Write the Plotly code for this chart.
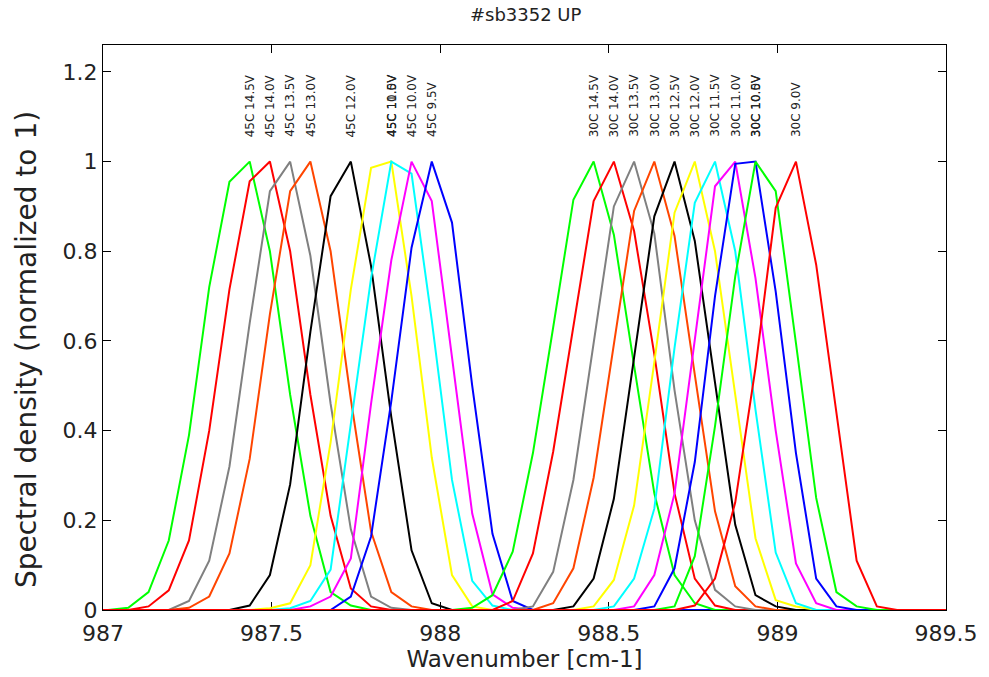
import plotly.graph_objects as go

# Common wavenumber sampling grid (cm-1), read from the vertex positions
wavenumber = [986.955, 987.015, 987.075, 987.135, 987.195, 987.255, 987.315, 987.375,
              987.435, 987.495, 987.555, 987.615, 987.675, 987.735, 987.795, 987.855,
              987.915, 987.975, 988.035, 988.095, 988.155, 988.215, 988.275, 988.335,
              988.395, 988.455, 988.515, 988.575, 988.635, 988.695, 988.755, 988.815,
              988.875, 988.935, 988.995, 989.055, 989.115, 989.175, 989.235, 989.295,
              989.355, 989.415, 989.475, 989.535]

# Each series: first grid index (0 = 986.955) of its non-zero part, and its values
s45_145 = (2,  [0.005, 0.04, 0.155, 0.39, 0.72, 0.955, 1.0, 0.80, 0.48, 0.21, 0.04, 0.01])
s45_140 = (3,  [0.008, 0.044, 0.155, 0.40, 0.715, 0.956, 1.0, 0.80, 0.48, 0.21, 0.048, 0.008])
s45_135 = (5,  [0.02, 0.11, 0.32, 0.64, 0.934, 1.0, 0.79, 0.46, 0.18, 0.03, 0.005])
s45_130 = (5,  [0.005, 0.03, 0.126, 0.337, 0.66, 0.934, 1.0, 0.80, 0.47, 0.175, 0.04, 0.008])
s45_120 = (8,  [0.01, 0.078, 0.28, 0.62, 0.923, 1.0, 0.767, 0.43, 0.133, 0.015])
s45_110 = (9,  [0.004, 0.015, 0.10, 0.374, 0.715, 0.986, 1.0, 0.70, 0.34, 0.078, 0.008])
s45_105 = (10, [0.004, 0.02, 0.09, 0.41, 0.74, 1.0, 0.973, 0.646, 0.29, 0.065, 0.01])
s45_100 = (11, [0.008, 0.03, 0.115, 0.46, 0.78, 1.0, 0.912, 0.56, 0.215, 0.035, 0.005])
s45_095 = (13, [0.03, 0.164, 0.466, 0.808, 1.0, 0.864, 0.50, 0.17, 0.02])

s30_145 = (19, [0.005, 0.033, 0.13, 0.35, 0.63, 0.915, 1.0, 0.837, 0.545, 0.26, 0.078, 0.015])
s30_140 = (21, [0.02, 0.126, 0.353, 0.63, 0.912, 1.0, 0.845, 0.57, 0.26, 0.07, 0.01])
s30_135 = (22, [0.008, 0.085, 0.29, 0.60, 0.90, 1.0, 0.84, 0.49, 0.20, 0.045, 0.008])
s30_130 = (23, [0.015, 0.093, 0.295, 0.593, 0.89, 1.0, 0.834, 0.525, 0.22, 0.053, 0.008])
s30_125 = (24, [0.008, 0.07, 0.248, 0.565, 0.878, 1.0, 0.823, 0.507, 0.19, 0.033, 0.008])
s30_120 = (25, [0.008, 0.067, 0.233, 0.553, 0.886, 1.0, 0.80, 0.478, 0.16, 0.022, 0.008])
s30_115 = (26, [0.008, 0.07, 0.226, 0.585, 0.908, 1.0, 0.80, 0.447, 0.128, 0.015])
s30_110 = (27, [0.008, 0.078, 0.26, 0.606, 0.945, 1.0, 0.74, 0.40, 0.104, 0.015])
s30_105 = (28, [0.008, 0.093, 0.33, 0.70, 0.995, 1.0, 0.71, 0.35, 0.07, 0.008])
s30_100 = (29, [0.008, 0.12, 0.41, 0.744, 1.0, 0.934, 0.595, 0.25, 0.04, 0.008])
s30_090 = (30, [0.01, 0.07, 0.24, 0.54, 0.897, 1.0, 0.77, 0.44, 0.11, 0.008])

labels = ["45C 14.5V", "45C 14.0V", "45C 13.5V", "45C 13.0V", "45C 12.0V",
          "45C 11.0V", "45C 10.5V", "45C 10.0V", "45C 9.5V",
          "30C 14.5V", "30C 14.0V", "30C 13.5V", "30C 13.0V", "30C 12.5V",
          "30C 12.0V", "30C 11.5V", "30C 11.0V", "30C 10.5V", "30C 10.0V", "30C 9.0V"]
series = [s45_145, s45_140, s45_135, s45_130, s45_120, s45_110, s45_105, s45_100, s45_095,
          s30_145, s30_140, s30_135, s30_130, s30_125, s30_120, s30_115, s30_110, s30_105,
          s30_100, s30_090]

palette = ["#00ff00", "#ff0000", "#808080", "#ff4500", "#000000",
           "#ffff00", "#00ffff", "#ff00ff", "#0000ff"]

FONT = "DejaVu Sans"

fig = go.Figure()
annotations = []
n = len(wavenumber)
for i, (lab, (start, vals)) in enumerate(zip(labels, series)):
    y = [0.0] * n
    for j, v in enumerate(vals):
        y[start + j] = v
    color = palette[i % len(palette)]
    fig.add_trace(go.Scatter(x=wavenumber, y=y, mode="lines", name=lab,
                             line=dict(color=color, width=2), showlegend=False))
    kmax = max(range(n), key=lambda k: y[k])
    annotations.append(dict(x=wavenumber[kmax], y=1.05, xref="x", yref="y",
                            text=lab, showarrow=False, textangle=-90,
                            xanchor="center", yanchor="bottom",
                            font=dict(family=FONT, size=12, color="#222222")))

# y-axis title placed as a rotated annotation (matches the reference's offset)
annotations.append(dict(x=0, xref="paper", xshift=-77, xanchor="center",
                        y=0.46, yref="paper", yanchor="middle",
                        text="Spectral density (normalized to 1)", showarrow=False,
                        textangle=-90, font=dict(family=FONT, size=28, color="#222222")))

fig.update_layout(
    width=989, height=677,
    margin=dict(l=103, r=41, t=45, b=65),
    paper_bgcolor="white", plot_bgcolor="white",
    title=dict(text="#sb3352 UP", x=0.5315, xanchor="center", y=0.978, yanchor="middle",
               font=dict(family=FONT, size=18, color="#222222")),
    annotations=annotations,
    font=dict(family=FONT, color="#222222"),
)
fig.update_xaxes(range=[987, 989.5], tickvals=[987, 987.5, 988, 988.5, 989, 989.5],
                 ticks="inside", ticklen=8, tickcolor="black", tickwidth=1,
                 showline=True, linecolor="black", linewidth=1, mirror="ticks",
                 showgrid=False, zeroline=False, layer="below traces",
                 ticklabelstandoff=4,
                 tickfont=dict(family=FONT, size=22, color="#222222"),
                 title=dict(text="Wavenumber [cm-1]", standoff=2,
                            font=dict(family=FONT, size=23, color="#222222")))
fig.update_yaxes(range=[0, 1.26], tickvals=[0, 0.2, 0.4, 0.6, 0.8, 1, 1.2],
                 ticks="inside", ticklen=8, tickcolor="black", tickwidth=1,
                 showline=True, linecolor="black", linewidth=1, mirror="ticks",
                 showgrid=False, zeroline=False, layer="below traces",
                 tickfont=dict(family=FONT, size=22, color="#222222"))

fig.write_html("out.html")
